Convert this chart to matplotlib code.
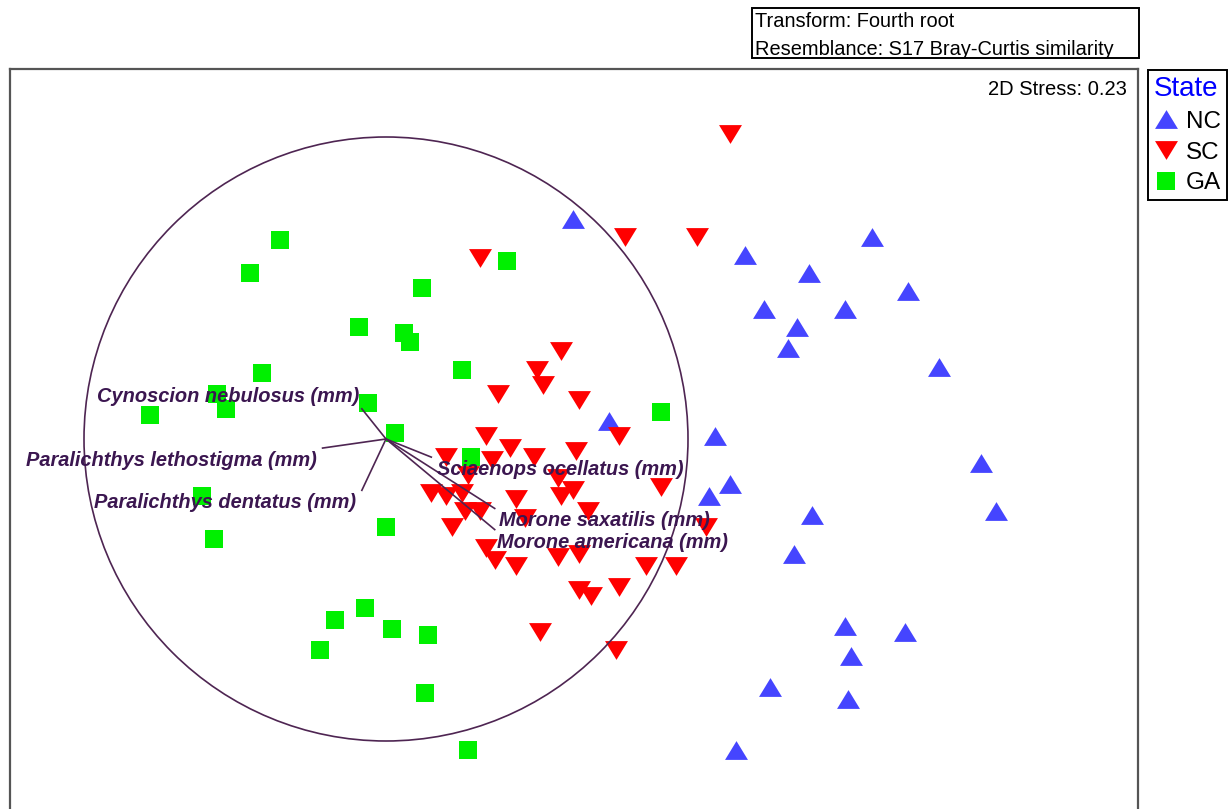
import matplotlib
matplotlib.use("Agg")
import matplotlib.pyplot as plt
from matplotlib.patches import Circle, Rectangle
from matplotlib.path import Path

plt.rcParams['font.family'] = ['Liberation Sans', 'DejaVu Sans']

# nMDS ordination scores (unit circle = correlation of 1)
ga_x = [-0.35, -0.45, 0.40, 0.12, -0.09, 0.06, 0.08, 0.25, -0.41, -0.56, -0.53, -0.78, -0.06,
        0.03, 0.91, 0.28, -0.61, 0.00, -0.57, -0.07, -0.17, 0.02, 0.14, -0.22, 0.13, 0.27]
ga_y = [0.66, 0.55, 0.59, 0.50, 0.37, 0.35, 0.32, 0.23, 0.22, 0.15, 0.10, 0.08, 0.12,
        0.02, 0.09, -0.06, -0.19, -0.29, -0.33, -0.56, -0.60, -0.63, -0.65, -0.70, -0.84, -1.03]

nc_x = [0.62, 1.19, 1.61, 1.40, 1.73, 1.25, 1.52, 1.36, 1.33, 1.83, 0.74, 1.09,
        1.97, 1.14, 1.07, 2.02, 1.41, 1.35, 1.52, 1.72, 1.54, 1.27, 1.53, 1.16]
nc_y = [0.73, 0.61, 0.67, 0.55, 0.49, 0.43, 0.43, 0.37, 0.30, 0.24, 0.06, 0.01,
        -0.08, -0.15, -0.19, -0.24, -0.25, -0.38, -0.62, -0.64, -0.72, -0.82, -0.86, -1.03]

sc_x = [1.14, 0.79, 1.03, 0.31, 0.58, 0.50, 0.52, 0.37, 0.64, 0.77, 0.33, 0.41, 0.20, 0.35,
        0.49, 0.63, 0.91, 0.15, 0.20, 0.25, 0.26, 0.31, 0.43, 0.57, 0.58, 0.62, 0.67, 0.22,
        0.46, 0.33, 0.36, 0.43, 0.57, 0.64, 0.86, 0.96, 0.64, 0.68, 0.77, 1.06, 0.51, 0.76, 0.27]
sc_y = [1.01, 0.67, 0.67, 0.60, 0.29, 0.23, 0.18, 0.15, 0.13, 0.01, 0.01, -0.03, -0.06, -0.07,
        -0.06, -0.04, -0.16, -0.18, -0.19, -0.18, -0.24, -0.24, -0.20, -0.13, -0.19, -0.17, -0.24, -0.29,
        -0.26, -0.36, -0.40, -0.42, -0.39, -0.38, -0.42, -0.42, -0.50, -0.52, -0.49, -0.29, -0.64, -0.70, -0.12]

# Pearson correlation vectors of species lengths
species = ["Cynoscion nebulosus (mm)", "Paralichthys lethostigma (mm)", "Paralichthys dentatus (mm)",
           "Sciaenops ocellatus (mm)", "Morone saxatilis (mm)", "Morone americana (mm)"]
vec_x = [-0.08, -0.21, -0.08, 0.15, 0.36, 0.36]
vec_y = [0.10, -0.03, -0.17, -0.06, -0.23, -0.30]

states = ["NC", "SC", "GA"]

# label placement relative to each vector tip (points), and alignment
label_offsets = [(-2, 9), (-4, -9), (-4, -9), (4, -9), (3, -9), (2, -9)]
label_ha = ["right", "right", "right", "left", "left", "left"]

W, H = 1230, 809
fig = plt.figure(figsize=(W / 100, H / 100), dpi=100)

# plot frame in pixels: x 10..1138, y 69..850 (runs past the bottom edge)
left, right, top, bottom = 10, 1138, 69, 850
ax = fig.add_axes([left / W, 1 - bottom / H, (right - left) / W, (bottom - top) / H])
scale = 302.0
cx, cy = 386, 439
ax.set_xlim((left - cx) / scale, (right - cx) / scale)
ax.set_ylim((cy - bottom) / scale, (cy - top) / scale)
ax.set_xticks([])
ax.set_yticks([])
for s in ax.spines.values():
    s.set_color('#555555')
    s.set_linewidth(1.6)

up_tri = Path([(-1, -0.82), (1, -0.82), (0, 0.82), (-1, -0.82)],
              [Path.MOVETO, Path.LINETO, Path.LINETO, Path.CLOSEPOLY])
down_tri = Path([(-1, 0.82), (1, 0.82), (0, -0.82), (-1, 0.82)],
                [Path.MOVETO, Path.LINETO, Path.LINETO, Path.CLOSEPOLY])

ax.plot(nc_x, nc_y, ls='none', marker=up_tri, ms=16.5, mew=0, color='#4545ff', label=states[0], zorder=3)
ax.plot(sc_x, sc_y, ls='none', marker=down_tri, ms=16.5, mew=0, color='#ff0000', label=states[1], zorder=3)
ax.plot(ga_x, ga_y, ls='none', marker='s', ms=13.5, mew=0, color='#00f000', label=states[2], zorder=3)

line_col = '#4e2552'
ax.add_patch(Circle((0, 0), 1.0, fill=False, ec=line_col, lw=1.2, zorder=4))
for vx, vy in zip(vec_x, vec_y):
    ax.plot([0, vx], [0, vy], color=line_col, lw=1.2, zorder=4)
for name, vx, vy, off, ha in zip(species, vec_x, vec_y, label_offsets, label_ha):
    ax.annotate(name, xy=(vx, vy), xytext=off, textcoords='offset points',
                ha=ha, va='center', fontsize=14.4, fontweight='bold', fontstyle='italic',
                color='#3b1650', zorder=5)

ax.text((1127 - left) / (right - left), 1 - (95 - top) / (bottom - top), "2D Stress: 0.23",
        transform=ax.transAxes, ha='right', va='baseline', fontsize=14.5, color='black')

# transform / resemblance box
fig.add_artist(Rectangle((752 / W, 1 - 58 / H), (1139 - 752) / W, 50 / H, transform=fig.transFigure,
                         fill=False, ec='black', lw=1.4))
fig.text(755 / W, 1 - 27 / H, "Transform: Fourth root", ha='left', va='baseline', fontsize=14.4)
fig.text(755 / W, 1 - 55 / H, "Resemblance: S17 Bray-Curtis similarity", ha='left', va='baseline', fontsize=14.4)

leg = ax.legend(loc='upper left', bbox_to_anchor=(1148 / W, 1 - 70 / H), bbox_transform=fig.transFigure,
                borderaxespad=0, title="State", fontsize=17.5, title_fontsize=20,
                frameon=True, fancybox=False, framealpha=1, edgecolor='black',
                handlelength=1.0, handletextpad=0.3, borderpad=0.25, labelspacing=0.36,
                alignment='left')
leg.get_title().set_color('#0000ff')
leg.get_frame().set_linewidth(1.4)

fig.savefig("out.png", dpi=100)
